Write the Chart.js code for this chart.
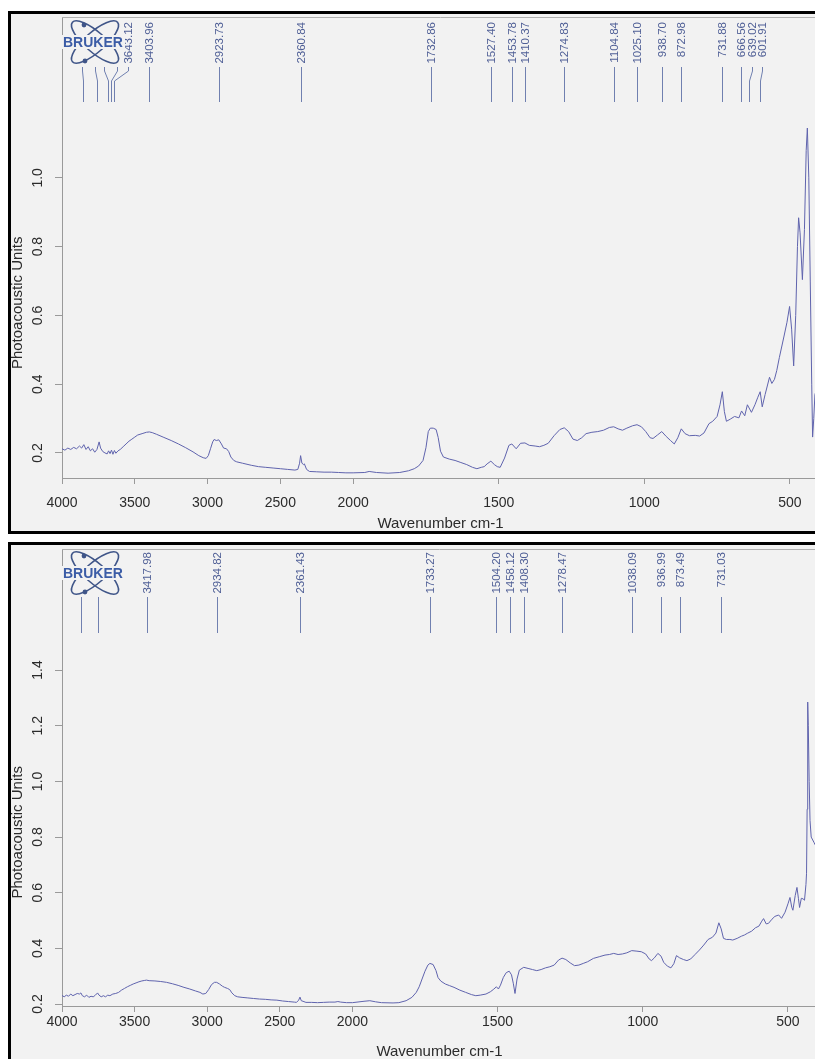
<!DOCTYPE html>
<html>
<head>
<meta charset="utf-8">
<script src="https://cdn.jsdelivr.net/npm/chart.js@4.4.1/dist/chart.umd.min.js"></script>
<style>
  body { margin: 0; background: #fff; width: 815px; height: 1059px; overflow: hidden; position: relative; }
  .panel { position: absolute; left: 8px; width: 850px; border: 3px solid #000; background: #f2f2f2; overflow: hidden; }
  #p1 { top: 11px; height: 517px; }
  #p2 { top: 542px; height: 530px; }
  canvas { display: block; }
</style>
</head>
<body>
<div class="panel" id="p1"><canvas id="spec1" width="830" height="519"></canvas></div>
<div class="panel" id="p2"><canvas id="spec2" width="830" height="520"></canvas></div>
<script>
// Wavenumber axis ticks (cm-1) and y ticks
const xTicks = [4000, 3500, 3000, 2500, 2000, 1500, 1000, 500];
const yTicks1 = [0.2, 0.4, 0.6, 0.8, 1.0];
const yTicks2 = [0.2, 0.4, 0.6, 0.8, 1.0, 1.2, 1.4];

// Top spectrum
const wn1 = [4000, 3980, 3960, 3940, 3920, 3900, 3880, 3865, 3850, 3835, 3820, 3805, 3790, 3775, 3760, 3745, 3735, 3720, 3705, 3690,
  3680, 3670, 3660, 3650, 3640, 3630, 3615, 3600, 3580, 3560, 3540, 3520, 3500, 3480, 3450, 3420, 3400, 3380, 3350, 3300,
  3250, 3200, 3150, 3100, 3060, 3030, 3010, 2995, 2980, 2965, 2955, 2940, 2923, 2905, 2890, 2870, 2855, 2840, 2820, 2800,
  2760, 2700, 2650, 2600, 2550, 2500, 2450, 2400, 2380, 2368, 2361, 2352, 2340, 2335, 2320, 2300, 2250, 2200, 2150, 2100,
  2050, 2000, 1960, 1945, 1920, 1880, 1840, 1810, 1790, 1775, 1760, 1750, 1742, 1735, 1725, 1715, 1708, 1700, 1690, 1670,
  1650, 1630, 1610, 1590, 1575, 1560, 1550, 1540, 1527, 1515, 1505, 1495, 1480, 1465, 1455, 1440, 1425, 1410, 1395, 1375,
  1360, 1345, 1330, 1310, 1290, 1275, 1260, 1245, 1230, 1215, 1200, 1180, 1160, 1140, 1120, 1105, 1090, 1075, 1060, 1040,
  1025, 1010, 995, 980, 970, 955, 940, 925, 910, 897, 885, 873, 860, 845, 825, 810, 795, 778, 765, 750,
  740, 732, 725, 718, 705, 690, 675, 666, 655, 646, 632, 620, 610, 602, 595, 585, 570, 562, 553, 545,
  536, 520, 510, 501, 494, 487, 480, 474, 470, 465, 457, 450, 444, 440, 435, 430, 425, 422, 418, 414,
  410, 400];
const val1 = [0.212, 0.208, 0.214, 0.210, 0.216, 0.212, 0.220, 0.214, 0.224, 0.210, 0.218, 0.206, 0.212, 0.202, 0.210, 0.232, 0.214, 0.204, 0.200, 0.197,
  0.206, 0.198, 0.208, 0.196, 0.207, 0.199, 0.206, 0.210, 0.218, 0.226, 0.234, 0.240, 0.246, 0.252, 0.256, 0.260, 0.261, 0.259, 0.254, 0.245,
  0.236, 0.226, 0.215, 0.203, 0.192, 0.186, 0.184, 0.192, 0.212, 0.232, 0.239, 0.236, 0.238, 0.226, 0.214, 0.212, 0.204, 0.188, 0.178, 0.174,
  0.170, 0.164, 0.160, 0.158, 0.156, 0.154, 0.152, 0.150, 0.152, 0.170, 0.192, 0.170, 0.166, 0.168, 0.152, 0.146, 0.145, 0.144, 0.144, 0.143,
  0.142, 0.142, 0.143, 0.146, 0.143, 0.141, 0.143, 0.148, 0.154, 0.162, 0.178, 0.215, 0.262, 0.272, 0.272, 0.268, 0.245, 0.205, 0.188, 0.182,
  0.178, 0.172, 0.166, 0.158, 0.154, 0.158, 0.160, 0.168, 0.176, 0.166, 0.160, 0.158, 0.185, 0.222, 0.226, 0.212, 0.228, 0.229, 0.222, 0.220,
  0.218, 0.222, 0.228, 0.250, 0.268, 0.273, 0.262, 0.240, 0.236, 0.244, 0.256, 0.260, 0.262, 0.266, 0.274, 0.276, 0.270, 0.266, 0.272, 0.279,
  0.282, 0.276, 0.262, 0.244, 0.242, 0.252, 0.262, 0.248, 0.236, 0.226, 0.244, 0.270, 0.256, 0.250, 0.251, 0.249, 0.258, 0.285, 0.292, 0.306,
  0.340, 0.378, 0.320, 0.292, 0.298, 0.306, 0.302, 0.322, 0.308, 0.340, 0.318, 0.340, 0.362, 0.378, 0.334, 0.370, 0.420, 0.402, 0.414, 0.440,
  0.478, 0.540, 0.580, 0.626, 0.560, 0.453, 0.600, 0.800, 0.884, 0.840, 0.704, 0.850, 1.080, 1.145, 1.000, 0.700, 0.400, 0.246, 0.300, 0.370,
  0.380, 0.390];

// Bottom spectrum
const wn2 = [4000, 3985, 3970, 3955, 3940, 3925, 3910, 3895, 3880, 3870, 3860, 3845, 3830, 3815, 3800, 3785, 3770, 3755, 3745, 3730,
  3715, 3700, 3685, 3670, 3650, 3630, 3610, 3590, 3570, 3550, 3530, 3510, 3490, 3470, 3450, 3430, 3418, 3400, 3360, 3320,
  3280, 3240, 3200, 3160, 3120, 3080, 3050, 3030, 3010, 2990, 2970, 2950, 2935, 2915, 2895, 2880, 2860, 2845, 2830, 2810,
  2790, 2760, 2720, 2680, 2640, 2600, 2560, 2520, 2480, 2440, 2400, 2385, 2370, 2361, 2352, 2340, 2320, 2280, 2240, 2200,
  2160, 2120, 2100, 2080, 2040, 2000, 1960, 1940, 1920, 1900, 1860, 1840, 1815, 1795, 1780, 1770, 1760, 1750, 1740, 1733,
  1722, 1712, 1705, 1695, 1680, 1665, 1650, 1630, 1610, 1590, 1575, 1560, 1540, 1525, 1515, 1504, 1497, 1490, 1480, 1470,
  1460, 1452, 1446, 1440, 1433, 1425, 1410, 1395, 1380, 1365, 1350, 1335, 1320, 1305, 1290, 1278, 1265, 1250, 1235, 1220,
  1205, 1190, 1170, 1150, 1130, 1115, 1100, 1085, 1070, 1055, 1038, 1020, 1005, 990, 978, 970, 960, 948, 937, 928,
  915, 903, 893, 884, 873, 860, 848, 835, 820, 805, 790, 775, 760, 748, 738, 730, 722, 712, 700, 690,
  675, 660, 650, 640, 625, 612, 600, 590, 584, 575, 567, 555, 545, 532, 522, 510, 500, 493, 487, 483,
  475, 469, 464, 460, 454, 448, 443, 438, 436, 434, 432, 430, 427, 424, 420, 410, 400];
const val2 = [0.231, 0.226, 0.232, 0.228, 0.236, 0.230, 0.234, 0.238, 0.236, 0.240, 0.230, 0.226, 0.232, 0.224, 0.228, 0.226, 0.232, 0.240, 0.232, 0.226,
  0.230, 0.226, 0.232, 0.230, 0.236, 0.238, 0.242, 0.250, 0.256, 0.262, 0.267, 0.272, 0.276, 0.280, 0.283, 0.285, 0.286, 0.284, 0.283, 0.281,
  0.278, 0.273, 0.267, 0.260, 0.254, 0.247, 0.242, 0.236, 0.238, 0.252, 0.270, 0.278, 0.278, 0.272, 0.264, 0.260, 0.256, 0.252, 0.240, 0.230,
  0.226, 0.224, 0.222, 0.220, 0.218, 0.217, 0.215, 0.214, 0.211, 0.209, 0.207, 0.206, 0.214, 0.225, 0.212, 0.210, 0.206, 0.206, 0.205, 0.206,
  0.207, 0.207, 0.209, 0.207, 0.205, 0.205, 0.210, 0.212, 0.208, 0.205, 0.204, 0.205, 0.212, 0.224, 0.242, 0.262, 0.290, 0.318, 0.340, 0.346,
  0.342, 0.320, 0.295, 0.282, 0.272, 0.266, 0.260, 0.250, 0.242, 0.234, 0.230, 0.232, 0.236, 0.244, 0.252, 0.262, 0.254, 0.268, 0.296, 0.313,
  0.318, 0.305, 0.275, 0.238, 0.290, 0.322, 0.332, 0.328, 0.324, 0.320, 0.324, 0.330, 0.334, 0.340, 0.358, 0.365, 0.360, 0.348, 0.338, 0.340,
  0.346, 0.352, 0.364, 0.370, 0.376, 0.378, 0.382, 0.378, 0.380, 0.384, 0.392, 0.390, 0.388, 0.380, 0.362, 0.356, 0.366, 0.382, 0.372, 0.350,
  0.336, 0.330, 0.345, 0.374, 0.366, 0.360, 0.356, 0.362, 0.378, 0.394, 0.412, 0.432, 0.440, 0.455, 0.492, 0.470, 0.436, 0.432, 0.432, 0.430,
  0.436, 0.444, 0.448, 0.454, 0.462, 0.474, 0.480, 0.498, 0.507, 0.488, 0.490, 0.505, 0.515, 0.520, 0.508, 0.530, 0.560, 0.583, 0.548, 0.537,
  0.590, 0.619, 0.580, 0.547, 0.580, 0.578, 0.573, 0.630, 0.670, 0.900, 1.285, 1.200, 1.000, 0.860, 0.800, 0.780, 0.760];

// Peak picks (labelled) and picks whose labels sit under the logo
const peaks1 = [3643.12, 3403.96, 2923.73, 2360.84, 1732.86, 1527.40, 1453.78, 1410.37, 1274.83, 1104.84, 1025.10,
  938.70, 872.98, 731.88, 666.56, 639.02, 601.91];
const hiddenPeaks1 = [3856, 3759, 3684, 3663];
const peaks2 = [3417.98, 2934.82, 2361.43, 1733.27, 1504.20, 1458.12, 1408.30, 1278.47, 1038.09, 936.99, 873.49, 731.03];
const hiddenPeaks2 = [3869, 3752];

const FONT = '"Liberation Sans", Arial, sans-serif';
const INK = '#2b2b2b';
const AXIS = '#9a9a9a';
const LINE = '#5f63ad';
const PEAK = '#4f5f96';

// OPUS style axis: 4000-2000 drawn at half the scale of 2000-400
const toUnit = w => (w <= 2000 ? w - 400 : 1600 + (w - 2000) / 2);
const fromUnit = u => (u <= 1600 ? u + 400 : 2000 + (u - 1600) * 2);
class SplitScale extends Chart.LinearScale {
  getPixelForValue(value) {
    if (value === null || value === undefined) return NaN;
    return this.getPixelForDecimal(toUnit(value) / 2600);
  }
  getValueForPixel(pixel) {
    return fromUnit(this.getDecimalForPixel(pixel) * 2600);
  }
}
SplitScale.id = 'split';
SplitScale.defaults = Chart.LinearScale.defaults;
Chart.register(SplitScale);

function drawLogo(ctx, cx, cy) {
  ctx.save();
  ctx.strokeStyle = '#3f5588';
  ctx.lineWidth = 1.6;
  [0.72, -0.72].forEach(a => {
    ctx.beginPath();
    ctx.ellipse(cx, cy, 30, 10, a, 0, Math.PI * 2);
    ctx.stroke();
  });
  ctx.fillStyle = '#3f5588';
  [[cx - 11, cy - 17], [cx - 10, cy + 19]].forEach(([dx, dy]) => {
    ctx.beginPath();
    ctx.arc(dx, dy, 2.4, 0, Math.PI * 2);
    ctx.fill();
  });
  ctx.fillStyle = '#f2f2f2';
  ctx.fillRect(cx - 33, cy - 7, 63, 14);
  ctx.fillStyle = '#3b5ca6';
  ctx.font = 'bold 14px ' + FONT;
  ctx.textAlign = 'left';
  ctx.textBaseline = 'middle';
  ctx.fillText('BRUKER', cx - 32, cy + 1);
  ctx.restore();
}

// Peak markers, rotated y labels, frame and logo
function decorations(cfg) {
  return {
    id: 'decorations',
    afterDraw(chart) {
      const { ctx, chartArea, scales: { x, y } } = chart;
      ctx.save();
      ctx.strokeStyle = '#b0b0b0';
      ctx.lineWidth = 1;
      ctx.beginPath();
      ctx.moveTo(chartArea.left, chartArea.top + 0.5);
      ctx.lineTo(chartArea.right, chartArea.top + 0.5);
      ctx.stroke();

      ctx.fillStyle = INK;
      ctx.font = '14px ' + FONT;
      ctx.textAlign = 'center';
      ctx.textBaseline = 'middle';
      cfg.yTicks.forEach(v => {
        ctx.save();
        ctx.translate(27, y.getPixelForValue(v));
        ctx.rotate(-Math.PI / 2);
        ctx.fillText(v.toFixed(1), 0, 0);
        ctx.restore();
      });
      ctx.save();
      ctx.font = '15px ' + FONT;
      ctx.translate(6.5, chartArea.top + 0.62 * (chartArea.bottom - chartArea.top));
      ctx.rotate(-Math.PI / 2);
      ctx.fillText('Photoacoustic Units', 0, 0);
      ctx.restore();

      ctx.strokeStyle = '#7080b0';
      ctx.fillStyle = PEAK;
      ctx.font = '11.5px ' + FONT;
      const marks = cfg.hidden.map(w => ({ w, t: null })).concat(cfg.peaks.map(w => ({ w, t: w.toFixed(2) })));
      marks.forEach(p => {
        const px = Math.round(x.getPixelForValue(p.w)) + 0.5;
        const lx = px + (cfg.nudge[p.w] || 0);
        ctx.beginPath();
        ctx.moveTo(lx, cfg.lineTop);
        ctx.lineTo(lx, cfg.lineTop + 4);
        ctx.lineTo(px, cfg.lineTop + 14);
        ctx.lineTo(px, cfg.lineBottom);
        ctx.stroke();
        if (p.t) {
          ctx.save();
          ctx.translate(lx, cfg.textTop);
          ctx.rotate(-Math.PI / 2);
          ctx.textAlign = 'right';
          ctx.fillText(p.t, 0, 0);
          ctx.restore();
        }
      });
      drawLogo(ctx, 84, 28);
      ctx.restore();
    }
  };
}

function makeChart(id, wn, vals, yTicks, yMin, yMax, peaks, hidden, layout) {
  const points = wn.map((w, i) => ({ x: w, y: vals[i] }));
  return new Chart(document.getElementById(id), {
    type: 'line',
    data: {
      datasets: [{
        data: points,
        borderColor: LINE,
        borderWidth: 1,
        pointRadius: 0,
        tension: 0,
        borderJoinStyle: 'round',
        fill: false
      }]
    },
    options: {
      responsive: false,
      animation: false,
      events: [],
      layout: { padding: { top: layout.top, right: layout.right, left: 0, bottom: 0 } },
      plugins: { legend: { display: false }, tooltip: { enabled: false } },
      scales: {
        x: {
          type: 'split',
          min: 400,
          max: 4000,
          reverse: true,
          afterBuildTicks: s => { s.ticks = xTicks.map(v => ({ value: v })); },
          afterFit: s => { s.height = layout.xHeight; },
          grid: { display: true, drawOnChartArea: false, drawTicks: true, tickLength: 6, color: AXIS },
          border: { display: true, color: AXIS },
          ticks: { color: INK, font: { family: FONT, size: 14 }, padding: layout.tickPad, maxRotation: 0, autoSkip: false, callback: v => String(v) },
          title: { display: true, text: 'Wavenumber cm-1', color: INK, font: { family: FONT, size: 15 }, padding: { top: 0, bottom: layout.titlePad } }
        },
        y: {
          min: yMin,
          max: yMax,
          afterBuildTicks: s => { s.ticks = yTicks.map(v => ({ value: v })); },
          afterFit: s => { s.width = 51; },
          grid: { display: true, drawOnChartArea: false, drawTicks: true, tickLength: 7, color: AXIS },
          border: { display: true, color: AXIS },
          ticks: { display: false }
        }
      }
    },
    plugins: [decorations({ yTicks, peaks, hidden, nudge: layout.nudge, lineTop: layout.lineTop, lineBottom: 88, textTop: layout.textTop })]
  });
}

makeChart('spec1', wn1, val1, yTicks1, 0.127, 1.468, peaks1, hiddenPeaks1, {
  top: 3, right: 22, xHeight: 55, tickPad: 11, titlePad: 0, lineTop: 53, textTop: 8,
  nudge: { 3856: -1, 3759: -2, 3684: -4, 3663: 6, 3643.12: 14, 639.02: 3, 601.91: 2 }
});
makeChart('spec2', wn2, val2, yTicks2, 0.193, 1.835, peaks2, hiddenPeaks2, {
  top: 4, right: 24, xHeight: 59, tickPad: 2, titlePad: 4, lineTop: 52, textTop: 7,
  nudge: {}
});
</script>
</body>
</html>
